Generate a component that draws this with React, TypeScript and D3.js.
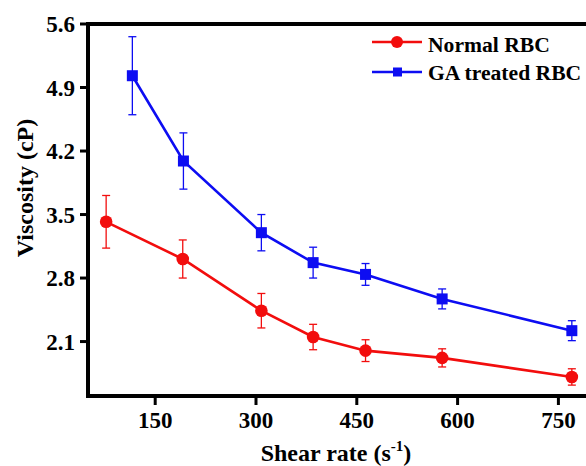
import React from "react";
import { scaleLinear, line } from "d3";

// shear rate (1/s) and viscosity (cP)
const normalX = [77, 191, 308, 385, 463, 577, 770];
const normalY = [3.42, 3.01, 2.44, 2.15, 2.0, 1.92, 1.71];
const normalErr = [0.29, 0.21, 0.19, 0.14, 0.12, 0.1, 0.09];

const gaX = [116, 192, 308, 385, 463, 577, 770];
const gaY = [5.03, 4.09, 3.3, 2.97, 2.84, 2.57, 2.22];
const gaErr = [0.43, 0.31, 0.2, 0.17, 0.12, 0.11, 0.11];

const xTicks = [150, 300, 450, 600, 750];
const yTicks = [2.1, 2.8, 3.5, 4.2, 4.9, 5.6];

const RED = "#f20d0d";
const BLUE = "#0d0df2";
const serif = { fontFamily: "Liberation Serif" };

const width = 586;
const height = 466;
const left = 88;
const top = 24;
const bottom = 396;

const x = scaleLinear().domain([50, 800]).range([left, 592]);
const y = scaleLinear().domain([1.5, 5.6]).range([bottom, top]);

type Pt = { x: number; y: number; e: number };
const zip = (xs: number[], ys: number[], es: number[]): Pt[] =>
  xs.map((v, i) => ({ x: v, y: ys[i], e: es[i] }));

const normal = zip(normalX, normalY, normalErr);
const ga = zip(gaX, gaY, gaErr);

const path = line<Pt>()
  .x(d => x(d.x))
  .y(d => y(d.y));

const ErrorBars = ({ data, color }: { data: Pt[]; color: string }) => (
  <g stroke={color} strokeWidth={1.3}>
    {data.map((d, i) => (
      <g key={i}>
        <line x1={x(d.x)} x2={x(d.x)} y1={y(d.y + d.e)} y2={y(d.y - d.e)} />
        <line x1={x(d.x) - 4} x2={x(d.x) + 4} y1={y(d.y + d.e)} y2={y(d.y + d.e)} />
        <line x1={x(d.x) - 4} x2={x(d.x) + 4} y1={y(d.y - d.e)} y2={y(d.y - d.e)} />
      </g>
    ))}
  </g>
);

export default function App() {
  return (
    <svg
      width={width}
      height={height}
      style={{ position: "absolute", left: 0, top: 0, background: "#fff" }}
    >
      <ErrorBars data={normal} color={RED} />
      <ErrorBars data={ga} color={BLUE} />
      <path d={path(normal) || ""} fill="none" stroke={RED} strokeWidth={2.6} />
      <path d={path(ga) || ""} fill="none" stroke={BLUE} strokeWidth={2.6} />
      {normal.map((d, i) => (
        <circle key={i} cx={x(d.x)} cy={y(d.y)} r={6.3} fill={RED} />
      ))}
      {ga.map((d, i) => (
        <rect key={i} x={x(d.x) - 5.5} y={y(d.y) - 5.5} width={11} height={11} fill={BLUE} />
      ))}

      {/* axes */}
      <g stroke="#000" strokeWidth={4} fill="none">
        <line x1={left} x2={left} y1={top - 2} y2={bottom + 2} />
        <line x1={left - 2} x2={width} y1={bottom} y2={bottom} />
        <line x1={left - 2} x2={width} y1={top} y2={top} />
      </g>
      {yTicks.map(t => (
        <g key={t}>
          <line x1={left - 8} x2={left} y1={y(t)} y2={y(t)} stroke="#000" strokeWidth={3} />
          <text x={75} y={y(t) + 8} textAnchor="end" fontSize={23} fontWeight="bold" style={serif}>
            {t.toFixed(1)}
          </text>
        </g>
      ))}
      {xTicks.map(t => (
        <g key={t}>
          <line x1={x(t)} x2={x(t)} y1={bottom} y2={bottom + 9} stroke="#000" strokeWidth={3} />
          <text x={x(t)} y={428} textAnchor="middle" fontSize={23} fontWeight="bold" style={serif}>
            {t}
          </text>
        </g>
      ))}

      <text
        transform="translate(33,188) rotate(-90)"
        textAnchor="middle"
        fontSize={24}
        fontWeight="bold"
        style={serif}
      >
        Viscosity (cP)
      </text>
      <text x={336} y={461} textAnchor="middle" fontSize={24} fontWeight="bold" style={serif}>
        Shear rate (s<tspan fontSize={15} dy={-10}>-1</tspan>
        <tspan dy={10}>)</tspan>
      </text>

      {/* legend */}
      <line x1={372} x2={422} y1={42} y2={42} stroke={RED} strokeWidth={2.6} />
      <circle cx={397} cy={42} r={6} fill={RED} />
      <text x={428} y={51.5} fontSize={21.6} fontWeight="bold" style={serif}>
        Normal RBC
      </text>
      <line x1={372} x2={422} y1={72} y2={72} stroke={BLUE} strokeWidth={2.6} />
      <rect x={393} y={67.5} width={9} height={9} fill={BLUE} />
      <text x={428} y={80} fontSize={21.6} fontWeight="bold" style={serif}>
        GA treated RBC
      </text>
    </svg>
  );
}
